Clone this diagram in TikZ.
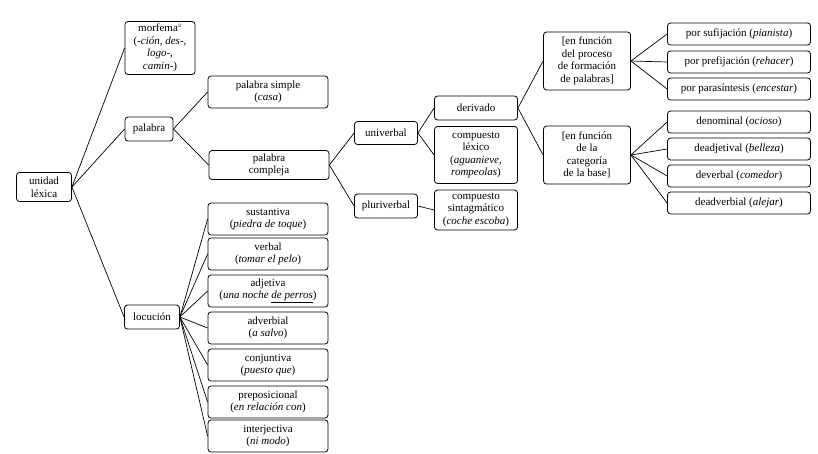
\documentclass[tikz,border=0pt]{standalone}
\usepackage{fontspec}
\setmainfont{Liberation Serif}
\begin{document}
\begin{tikzpicture}[x=1pt,y=-1pt,
 b/.style={draw,rounded corners=3pt,line width=0.8pt,align=center,inner sep=1pt,font=\fontsize{11}{12.5}\selectfont},
 l/.style={line width=0.7pt}]
\useasboundingbox (0,0) rectangle (818,453);
\node[b,minimum width=55,minimum height=29] (u) at (44,187) {unidad\\léxica};
\node[b,minimum width=70,minimum height=53] (m) at (160,48) {morfema$^{\scriptscriptstyle 2}$\\(\textit{-ción, des-,}\\\textit{logo-,}\\\textit{camin-})};
\node[b,minimum width=48,minimum height=24] (p) at (149,129) {palabra};
\node[b,minimum width=55,minimum height=24] (lo) at (152,317) {locución};
\node[b,minimum width=120,minimum height=32] (ps) at (268,92) {palabra simple\\(\textit{casa})};
\node[b,minimum width=120,minimum height=29] (pc) at (269,165) {palabra\\compleja};
\node[b,minimum width=63,minimum height=23] (un) at (386,133) {univerbal};
\node[b,minimum width=63,minimum height=24] (pl) at (386,206) {pluriverbal};
\node[b,minimum width=83,minimum height=24] (de) at (476,108) {derivado};
\node[b,minimum width=83,minimum height=57] (cl) at (476,155) {compuesto\\léxico\\(\textit{aguanieve,}\\\textit{rompeolas})};
\node[b,minimum width=83,minimum height=40] (cs) at (476,210) {compuesto\\sintagmático\\(\textit{coche escoba})};
\node[b,minimum width=87,minimum height=58] (f1) at (587,61) {[en función\\del proceso\\de formación\\de palabras]};
\node[b,minimum width=87,minimum height=58] (f2) at (587,155) {[en función\\de la\\categoría\\de la base]};
\foreach \n/\y/\t in {a/34/por sufijación (\textit{pianista}),b/62/por prefijación (\textit{rehacer}),c/89/por parasíntesis (\textit{encestar}),d/122/denominal (\textit{ocioso}),e/149/deadjetival (\textit{belleza}),f/176/deverbal (\textit{comedor}),g/203/deadverbial (\textit{alejar})}
  \node[b,minimum width=143,minimum height=22] (\n) at (739,\y) {\t};
\foreach \n/\y/\t in {s1/219/sustantiva\\(\textit{piedra de toque}),s2/254/verbal\\(\textit{tomar el pelo}),s3/291/adjetiva\\(\textit{una noche \underline{de perros}}),s4/328/adverbial\\(\textit{a salvo}),s5/365/conjuntiva\\(\textit{puesto que}),s6/402/preposicional\\(\textit{en relación con}),s7/436/interjectiva\\(\textit{ni modo})}
  \node[b,minimum width=120,minimum height=32] (\n) at (268,\y) {\t};
\foreach \a/\c in {u/m,u/p,u/lo,p/ps,p/pc,pc/un,pc/pl,un/de,un/cl,pl/cs,de/f1,de/f2,f1/a,f1/b,f1/c,f2/d,f2/e,f2/f,f2/g,lo/s1,lo/s2,lo/s3,lo/s4,lo/s5,lo/s6,lo/s7}
  \draw[l] (\a.east) -- (\c.west);
\end{tikzpicture}
\end{document}
